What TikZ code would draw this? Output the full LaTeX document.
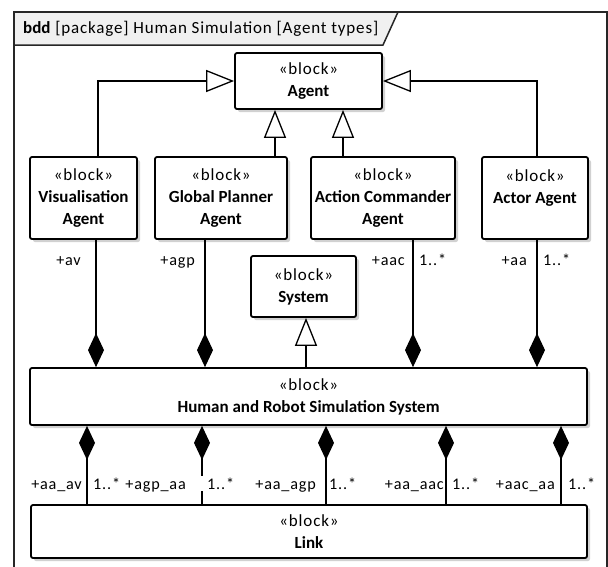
\documentclass[tikz,border=0pt]{standalone}
\usepackage{fontspec}
\setmainfont{Carlito}[LetterSpace=5, BoldFeatures={LetterSpace=0}]
\usetikzlibrary{arrows.meta,shadows}
\begin{document}
\begin{tikzpicture}[x=1pt,y=-1pt,
  blk/.style={draw, line width=1.8pt, rounded corners=2pt, fill=white, align=center,
    inner sep=0pt, font=\fontsize{17}{22}\selectfont,
    drop shadow={shadow xshift=3pt, shadow yshift=-3pt, fill=black!18, opacity=1}},
  lbl/.style={font=\fontsize{16.2}{20}\selectfont, inner sep=0pt},
  ttl/.style={font=\fontsize{17}{20}\selectfont, inner sep=0pt},
  gen/.style={line width=1.3pt, -{Triangle[open, length=28pt, width=22pt, fill=white]}},
  comp/.style={line width=1.3pt, -{Diamond[length=34pt, width=16pt, fill=black]}},
  framel/.style={line width=1.5pt, draw=black!85}]
\fill[white] (0,0) rectangle (608,566);
\useasboundingbox (0,0) rectangle (608,566);
% frame
\draw[framel] (14,580) -- (14,12) -- (607,12) -- (607,580);
\filldraw[framel, fill=black!6] (14,12) -- (398,12) -- (383,45) -- (14,45) -- cycle;
\node[ttl, anchor=base west] (title) at (23,33) {\textbf{bdd} [package] Human Simulation [Agent types]};
% blocks
\node[blk, minimum width=147pt, minimum height=56pt] (agent) at (308.5,81) {«block»\\\textbf{Agent}};
\node[blk, minimum width=107pt, minimum height=82pt] (vis) at (83.5,198) {«block»\\\textbf{Visualisation}\\\textbf{Agent}};
\node[blk, minimum width=132pt, minimum height=82pt] (gp) at (221,198) {«block»\\\textbf{Global Planner}\\\textbf{Agent}};
\node[blk, minimum width=144pt, minimum height=82pt] (ac) at (383,198) {«block»\\\textbf{Action Commander}\\\textbf{Agent}};
\node[blk, minimum width=106pt, minimum height=82pt] (actor) at (535,198) {«block»\\\textbf{Actor Agent}\\~};
\node[blk, minimum width=105pt, minimum height=61pt] (sys) at (303.5,286.5) {«block»\\\textbf{System}};
\node[blk, minimum width=557pt, minimum height=57pt] (hrss) at (308.5,396.5) {«block»\\\textbf{Human and Robot Simulation System}};
\node[blk, minimum width=556pt, minimum height=53pt] (link) at (309,531.5) {«block»\\\textbf{Link}};
% generalizations
\draw[gen] ([xshift=14.5pt]vis.north) |- (agent.west);
\draw[gen] ([xshift=2pt]actor.north) |- (agent.east);
\coordinate (g1) at ([xshift=-33.5pt]agent.south);
\draw[gen] (gp.north -| g1) -- (g1);
\coordinate (g2) at ([xshift=34.5pt]agent.south);
\draw[gen] (ac.north -| g2) -- (g2);
\coordinate (g3) at ([xshift=2.5pt]sys.south);
\draw[gen] (hrss.north -| g3) -- (g3);
% compositions upper
\coordinate (a1) at ([xshift=12.5pt]vis.south);
\coordinate (a2) at ([xshift=-16pt]gp.south);
\coordinate (a3) at ([xshift=30pt]ac.south);
\coordinate (a4) at ([xshift=2pt]actor.south);
\foreach \c in {a1,a2,a3,a4} \draw[comp] (\c) -- (hrss.north -| \c);
% compositions lower
\coordinate (b1) at ([xshift=-222pt]link.north);
\coordinate (b2) at ([xshift=-107pt]link.north);
\coordinate (b3) at ([xshift=17pt]link.north);
\coordinate (b4) at ([xshift=137pt]link.north);
\coordinate (b5) at ([xshift=252pt]link.north);
\foreach \c in {b1,b2,b3,b4,b5} \draw[comp] (\c) -- (hrss.south -| \c);
% upper labels
\node[lbl, anchor=base east] (r1) at (81,265) {+av};
\node[lbl, anchor=base east] (r2) at (195,265) {+agp};
\node[lbl, anchor=base east] (r3) at (405,265) {+aac};
\node[lbl, anchor=base west] (m3) at (419,265) {1..*};
\node[lbl, anchor=base east] (r4) at (527,265) {+aa};
\node[lbl, anchor=base west] (m4) at (543,265) {1..*};
% lower labels
\node[lbl, anchor=base east] (s1) at (82,489) {+aa\_av};
\node[lbl, anchor=base west] (n1) at (93,489) {1..*};
\node[lbl, anchor=base east] (s2) at (186,489) {+agp\_aa};
\node[lbl, anchor=base west, fill=white, inner xsep=6pt, inner ysep=2pt] (n2) at (201,489) {1..*};
\node[lbl, anchor=base east] (s3) at (316,489) {+aa\_agp};
\node[lbl, anchor=base west] (n3) at (329,489) {1..*};
\node[lbl, anchor=base east] (s4) at (444,489) {+aa\_aac};
\node[lbl, anchor=base west] (n4) at (452,489) {1..*};
\node[lbl, anchor=base east] (s5) at (555,489) {+aac\_aa};
\node[lbl, anchor=base west] (n5) at (568,489) {1..*};
\end{tikzpicture}
\end{document}
